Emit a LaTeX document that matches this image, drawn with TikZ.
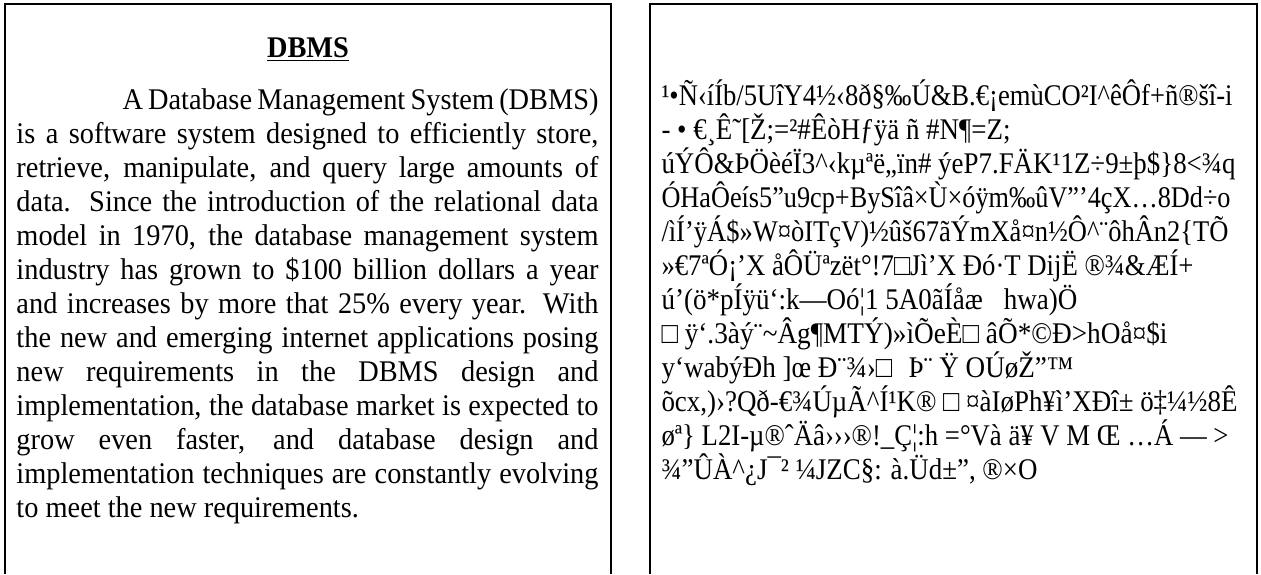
\documentclass[tikz,border=0pt]{standalone}
\usepackage{fontspec}
\usepackage{graphicx}
\setmainfont{Liberation Serif}[FakeStretch=0.945]
\newcommand{\jline}[2]{\makebox[#1][s]{#2}}
\newcommand{\rl}[2]{\resizebox{#1}{\height}{#2}}
\newcommand{\tac}{\textasciicircum}
\newcommand{\tat}{\textasciitilde}
\begin{document}
\begin{tikzpicture}[x=0.4pt,y=-0.4pt,
  frame/.style={line width=0.8pt,black},
  txt/.style={anchor=base west,inner sep=0pt,font=\fontsize{12}{13.6}\selectfont},
  ttl/.style={anchor=base,inner sep=0pt,font=\fontsize{12}{13.6}\selectfont\bfseries}]
\useasboundingbox (0,0) rectangle (1261,574);
% frames
\draw[frame] (5,574) -- (5,4) -- (611,4) -- (611,574);
\draw[frame] (650,574) -- (650,4) -- (1257,4) -- (1257,574);
% title
\node[ttl] (title) at (308,57) {\underline{DBMS}};
% left paragraph
\def\W{232.8pt}
\node[txt] (l1) at (122,109) {\jline{190.4pt}{A Database Management System (DBMS)}};
\node[txt] (l2) at (16,143) {\jline{\W}{is a software system designed to efficiently store,}};
\node[txt] (l3) at (16,177) {\jline{\W}{retrieve, manipulate, and query large amounts of}};
\node[txt] (l4) at (16,211) {\jline{\W}{data. Since the introduction of the relational data}};
\node[txt] (l5) at (16,245) {\jline{\W}{model in 1970, the database management system}};
\node[txt] (l6) at (16,279) {\jline{\W}{industry has grown to \$100 billion dollars a year}};
\node[txt] (l7) at (16,313) {\jline{\W}{and increases by more that 25\% every year. With}};
\node[txt] (l8) at (16,347) {\jline{\W}{the new and emerging internet applications posing}};
\node[txt] (l9) at (16,381) {\jline{\W}{new requirements in the DBMS design and}};
\node[txt] (l10) at (16,415) {\jline{\W}{implementation, the database market is expected to}};
\node[txt] (l11) at (16,449) {\jline{\W}{grow even faster, and database design and}};
\node[txt] (l12) at (16,483) {\jline{\W}{implementation techniques are constantly evolving}};
\node[txt] (l13) at (16,517) {to meet the new requirements.};
% right garbled text
\node[txt] (r1) at (661,105) {\rl{228.4pt}{¹•Ñ‹íÍb/5UîY4½‹8ð§‰Ú\&B.€¡emùCO²I\tac êÔf+ñ®šî-i}};
\node[txt] (r2) at (661,139) {\rl{139.6pt}{- • €¸Ê˜[Ž;=²\#ÊòHƒÿä ñ \#N¶=Z;}};
\node[txt] (r3) at (661,173) {\rl{229.6pt}{úÝÔ\&ÞÖèéÏ3\tac‹kµªë„ïn\# ýeP7.FÄK¹1Z÷9±þ\$\}8<¾q}};
\node[txt] (r4) at (661,207) {\rl{227.6pt}{ÓHaÔeís5”u9cp+BySîâ×Ù×óÿm‰ûV”'4çX…8Dd÷o}};
\node[txt] (r5) at (661,241) {\rl{226.8pt}{/ìÍ'ÿÁ\$»W¤òITçV)½ûš67ãÝmXå¤n½Ô\tac¨ôhÂn2\{TÕ}};
\node[txt] (r6) at (661,275) {\rl{212.8pt}{»€7ªÓ¡’X åÔÜªzët°!7□Jì'X Ðó·T DijË ®¾\&ÆÍ+}};
\node[txt] (r7) at (661,309) {\rl{166.4pt}{ú’(ö*pÍÿü‘:k—Oó¦1 5A0ãÍåæ\hspace{6pt} hwa)Ö}};
\node[txt] (r8) at (661,343) {\rl{202.4pt}{□ ÿ‘.3àý¨\tat Âg¶MTÝ)»ìÕeÈ□ âÕ*©Ð>hOå¤\$i}};
\node[txt] (r9) at (661,377) {\rl{164.8pt}{y‘wabýÐh ]œ Ð¨¾›□\hspace{4pt} Þ¨ Ÿ OÚøŽ”™}};
\node[txt] (r10) at (661,411) {\rl{230.4pt}{õcx,)›?Qð-€¾ÚµÃ\tac Í¹K® □ ¤àIøPh¥ì'XÐî± ö‡¼½8Ê}};
\node[txt] (r11) at (661,445) {\rl{226.8pt}{øª\} L2I-µ®ˆÄâ›››®!\_Ç¦:h =°Và ä¥ V M Œ …Á — >}};
\node[txt] (r12) at (661,479) {\rl{150.4pt}{¾”ÛÀ\tac¿J¯² ¼JZC§: à.Üd±”, ®×O}};
\end{tikzpicture}
\end{document}
